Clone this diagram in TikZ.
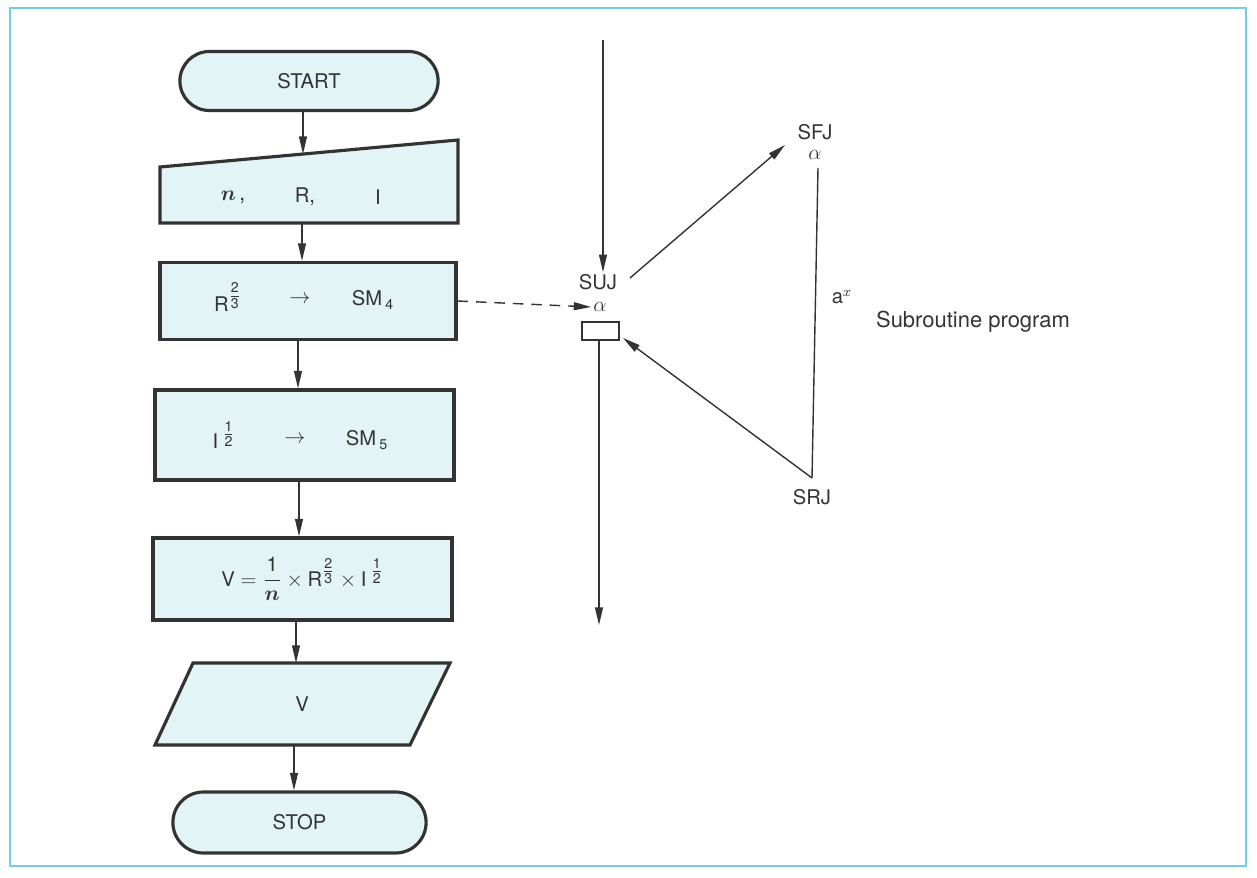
\documentclass[tikz,border=0pt]{standalone}
\usepackage{amsmath}
\usepackage{fontspec}
\setmainfont{TeX Gyre Heros}
\usetikzlibrary{arrows.meta,shapes.misc}
\definecolor{boxfill}{HTML}{E3F4F7}
\definecolor{framecol}{HTML}{72CFE0}
\definecolor{ink}{HTML}{333333}
\newcommand{\supfr}[2]{^{\textstyle\frac{\text{#1}}{\text{#2}}}}
\begin{document}
\begin{tikzpicture}[x=0.02cm,y=-0.02cm,
  every node/.style={font=\fontsize{11.5}{13}\selectfont, text=ink},
  box/.style={draw=ink, line width=1.8pt, fill=boxfill},
  term/.style={box, rounded rectangle, minimum height=1.18cm},
  proc/.style={box, rectangle},
  arr/.style={draw=ink, line width=0.8pt, -{Triangle[length=10pt,width=4.5pt]}},
  plain/.style={draw=ink, line width=0.8pt},
  lbl/.style={inner sep=1pt}]
\useasboundingbox (0,0) rectangle (1257,878);
\draw[framecol, line width=1.2pt] (10,8) rectangle (1246,866);

% left flowchart
\node[term, minimum width=5.4cm] (start) at (309,81) {START};
\draw[box] (160,167) -- (458,140) -- (458,223) -- (160,223) -- cycle;
\coordinate (inptop) at (303,154);
\coordinate (inpbot) at (302,223);
\node[lbl] (in1) at (233,197) {\large$\boldsymbol{n}$\,,};
\node[lbl] (in2) at (305,197) {R,};
\node[lbl] (in3) at (378,197) {I};

\node[proc, minimum width=5.92cm, minimum height=1.54cm] (b1) at (308,301) {};
\node[lbl] (b1a) at (228,297) {R$\supfr{2}{3}$};
\node[lbl] (b1b) at (300,300) {$\rightarrow$};
\node[lbl] (b1c) at (373,300) {SM\,$_{\text{4}}$};

\node[proc, minimum width=5.98cm, minimum height=1.8cm] (b2) at (304.5,435) {};
\node[lbl] (b2a) at (224,435) {I$^{\;\textstyle\frac{\text{1}}{\text{2}}}$};
\node[lbl] (b2b) at (295,440) {$\rightarrow$};
\node[lbl] (b2c) at (367,440) {SM\,$_{\text{5}}$};

\node[proc, minimum width=5.98cm, minimum height=1.64cm] (b3) at (302.5,579)
  {$\text{V}=\dfrac{\text{1}}{\boldsymbol{n}}\times\text{R}\supfr{2}{3}\times\text{I}^{\;\textstyle\frac{\text{1}}{\text{2}}}$};

\draw[box] (193,663) -- (450,663) -- (410,745) -- (155,745) -- cycle;
\node[lbl] (vout) at (302,704) {V};
\coordinate (vtop) at (296,663);
\coordinate (vbot) at (294,745);

\node[term, minimum width=5.3cm, minimum height=1.22cm] (stop) at (299.5,822.5) {STOP};

\draw[arr] (start.south -| inptop) -- (inptop);
\draw[arr] (inpbot) -- (inpbot |- b1.north);
\draw[arr] (b1.south -| 298,0) -- (298,0 |- b2.north);
\draw[arr] (b2.south -| 299,0) -- (299,0 |- b3.north);
\draw[arr] (b3.south -| vtop) -- (vtop);
\draw[arr] (vbot) -- (vbot |- stop.north);

% right: subroutine call
\coordinate (topin) at (603,40);
\node[lbl] (suj) at (598,282) {SUJ};
\node[lbl] (suja) at (600,307) {\large$\alpha$};
\node[draw=ink, line width=0.8pt, fill=white, minimum width=0.74cm, minimum height=0.36cm, inner sep=0pt] (sr) at (600.5,331) {};
\coordinate (botout) at (599,625);
\draw[arr] (topin) -- (topin |- suj.north);
\draw[arr] (sr.south -| botout) -- (botout);
\draw[arr, dash pattern=on 6pt off 4.5pt] (b1.east) -- (suja.west);

\node[lbl] (sfj) at (815,132) {SFJ};
\node[lbl] (sfja) at (815,155) {\large$\alpha$};
\node[lbl] (srj) at (812,497) {SRJ};
\coordinate (sujr) at (630,278);
\coordinate (sfjl) at (785,145);
\coordinate (sfjb) at (818,168);
\coordinate (srjt) at (812,478);
\coordinate (srin) at (623,338);
\draw[arr] (sujr) -- (sfjl);
\draw[plain] (sfjb) -- (srjt);
\draw[arr] (srjt) -- (srin);

\node[lbl] (ax) at (842,297) {a$^{x}$};
\node[lbl, font=\fontsize{12.5}{14}\selectfont] (subr) at (973,322) {Subroutine program};
\end{tikzpicture}
\end{document}
